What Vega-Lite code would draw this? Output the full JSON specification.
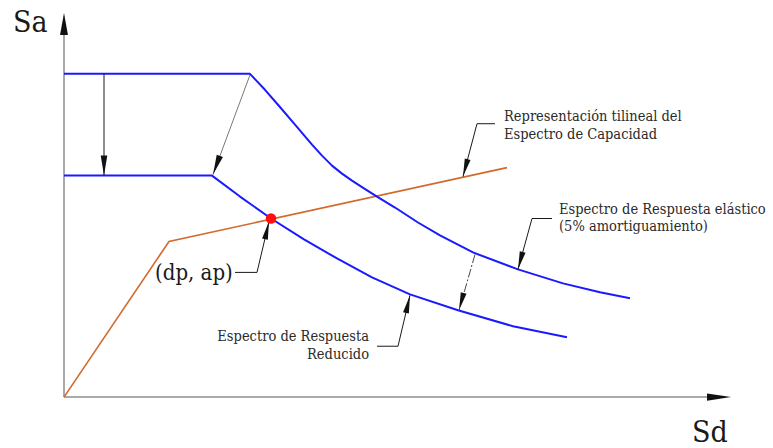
{
  "$schema": "https://vega.github.io/schema/vega-lite/v6.json",
  "width": 773,
  "height": 448,
  "padding": 0,
  "autosize": {"type": "fit", "contains": "padding"},
  "background": "white",
  "view": {"stroke": null},
  "datasets": {
    "curves": [
      {"id": "ax_y", "ord": 0, "Sd": 0, "Sa": 0},
      {"id": "ax_y", "ord": 1, "Sd": 0, "Sa": 3.68},
      {"id": "ax_x", "ord": 0, "Sd": 0, "Sa": 0},
      {"id": "ax_x", "ord": 1, "Sd": 6.51, "Sa": 0},
      {"id": "elastic", "ord": 0, "Sd": 0, "Sa": 3.24},
      {"id": "elastic", "ord": 1, "Sd": 1.86, "Sa": 3.24},
      {"id": "elastic", "ord": 2, "Sd": 2.01, "Sa": 3.08},
      {"id": "elastic", "ord": 3, "Sd": 2.14, "Sa": 2.93},
      {"id": "elastic", "ord": 4, "Sd": 2.31, "Sa": 2.73},
      {"id": "elastic", "ord": 5, "Sd": 2.48, "Sa": 2.53},
      {"id": "elastic", "ord": 6, "Sd": 2.58, "Sa": 2.42},
      {"id": "elastic", "ord": 7, "Sd": 2.68, "Sa": 2.32},
      {"id": "elastic", "ord": 8, "Sd": 2.78, "Sa": 2.24},
      {"id": "elastic", "ord": 9, "Sd": 2.88, "Sa": 2.17},
      {"id": "elastic", "ord": 10, "Sd": 2.98, "Sa": 2.105},
      {"id": "elastic", "ord": 11, "Sd": 3.13, "Sa": 2.01},
      {"id": "elastic", "ord": 12, "Sd": 3.31, "Sa": 1.90},
      {"id": "elastic", "ord": 13, "Sd": 3.54, "Sa": 1.75},
      {"id": "elastic", "ord": 14, "Sd": 3.76, "Sa": 1.62},
      {"id": "elastic", "ord": 15, "Sd": 4.09, "Sa": 1.45},
      {"id": "elastic", "ord": 16, "Sd": 4.54, "Sa": 1.28},
      {"id": "elastic", "ord": 17, "Sd": 4.99, "Sa": 1.14},
      {"id": "elastic", "ord": 18, "Sd": 5.36, "Sa": 1.05},
      {"id": "elastic", "ord": 19, "Sd": 5.66, "Sa": 0.99},
      {"id": "reduced", "ord": 0, "Sd": 0, "Sa": 2.22},
      {"id": "reduced", "ord": 1, "Sd": 1.48, "Sa": 2.22},
      {"id": "reduced", "ord": 2, "Sd": 1.76, "Sa": 2.01},
      {"id": "reduced", "ord": 3, "Sd": 2.07, "Sa": 1.79},
      {"id": "reduced", "ord": 4, "Sd": 2.40, "Sa": 1.58},
      {"id": "reduced", "ord": 5, "Sd": 2.73, "Sa": 1.39},
      {"id": "reduced", "ord": 6, "Sd": 3.08, "Sa": 1.20},
      {"id": "reduced", "ord": 7, "Sd": 3.46, "Sa": 1.03},
      {"id": "reduced", "ord": 8, "Sd": 3.94, "Sa": 0.87},
      {"id": "reduced", "ord": 9, "Sd": 4.49, "Sa": 0.71},
      {"id": "reduced", "ord": 10, "Sd": 5.03, "Sa": 0.60},
      {"id": "capacity", "ord": 0, "Sd": 0, "Sa": 0},
      {"id": "capacity", "ord": 1, "Sd": 1.05, "Sa": 1.56},
      {"id": "capacity", "ord": 2, "Sd": 4.43, "Sa": 2.30},
      {"id": "l_dp", "ord": 0, "Sd": 1.71, "Sa": 1.25},
      {"id": "l_dp", "ord": 1, "Sd": 1.93, "Sa": 1.25},
      {"id": "l_dp", "ord": 2, "Sd": 2.05, "Sa": 1.76},
      {"id": "l_red", "ord": 0, "Sd": 3.13, "Sa": 0.51},
      {"id": "l_red", "ord": 1, "Sd": 3.34, "Sa": 0.51},
      {"id": "l_red", "ord": 2, "Sd": 3.46, "Sa": 1.02},
      {"id": "l_cap", "ord": 0, "Sd": 4.31, "Sa": 2.74},
      {"id": "l_cap", "ord": 1, "Sd": 4.13, "Sa": 2.74},
      {"id": "l_cap", "ord": 2, "Sd": 3.99, "Sa": 2.21},
      {"id": "l_ela", "ord": 0, "Sd": 4.88, "Sa": 1.79},
      {"id": "l_ela", "ord": 1, "Sd": 4.68, "Sa": 1.79},
      {"id": "l_ela", "ord": 2, "Sd": 4.54, "Sa": 1.28},
      {"id": "a_vert", "ord": 0, "Sd": 0.40, "Sa": 3.24},
      {"id": "a_vert", "ord": 1, "Sd": 0.40, "Sa": 2.22},
      {"id": "a_diag", "ord": 0, "Sd": 1.86, "Sa": 3.23},
      {"id": "a_diag", "ord": 1, "Sd": 1.49, "Sa": 2.23},
      {"id": "a_dash", "ord": 0, "Sd": 4.11, "Sa": 1.43},
      {"id": "a_dash", "ord": 1, "Sd": 3.95, "Sa": 0.87}
    ],
    "heads": [
      {"arrow": "ax_y", "Sd": 0, "Sa": 3.85},
      {"arrow": "ax_x", "Sd": 6.67, "Sa": 0},
      {"arrow": "a_vert", "Sd": 0.40, "Sa": 2.22},
      {"arrow": "a_diag", "Sd": 1.49, "Sa": 2.23},
      {"arrow": "l_dp", "Sd": 2.05, "Sa": 1.76},
      {"arrow": "l_red", "Sd": 3.46, "Sa": 1.02},
      {"arrow": "l_cap", "Sd": 3.99, "Sa": 2.21},
      {"arrow": "l_ela", "Sd": 4.54, "Sa": 1.28},
      {"arrow": "a_dash", "Sd": 3.95, "Sa": 0.87}
    ],
    "perf": [
      {"label": "(dp, ap)", "Sd": 2.07, "Sa": 1.79}
    ],
    "texts": [
      {"kind": "axis", "text": "Sa", "Sd": -0.51, "Sa": 3.66},
      {"kind": "axis", "text": "Sd", "Sd": 6.28, "Sa": -0.45},
      {"kind": "point", "text": "(dp, ap)", "Sd": 0.91, "Sa": 1.17},
      {"kind": "left", "text": "Representación tilineal del", "Sd": 4.40, "Sa": 2.77},
      {"kind": "left", "text": "Espectro de Capacidad", "Sd": 4.40, "Sa": 2.59},
      {"kind": "left", "text": "Espectro de Respuesta elástico", "Sd": 4.95, "Sa": 1.84},
      {"kind": "left", "text": "(5% amortiguamiento)", "Sd": 4.95, "Sa": 1.66},
      {"kind": "right", "text": "Espectro de Respuesta", "Sd": 3.05, "Sa": 0.56},
      {"kind": "right", "text": "Reducido", "Sd": 3.05, "Sa": 0.38}
    ]
  },
  "encoding": {
    "x": {"field": "Sd", "type": "quantitative", "scale": {"domain": [-0.64, 7.09], "nice": false, "zero": false}, "axis": null},
    "y": {"field": "Sa", "type": "quantitative", "scale": {"domain": [-0.5, 3.98], "nice": false, "zero": false}, "axis": null}
  },
  "layer": [
    {
      "data": {"name": "curves"},
      "transform": [{"filter": {"field": "id", "oneOf": ["ax_y", "ax_x"]}}],
      "mark": {"type": "line", "color": "#8c8c8c", "strokeWidth": 1.5, "clip": false},
      "encoding": {"detail": {"field": "id"}, "order": {"field": "ord", "type": "quantitative"}}
    },
    {
      "data": {"name": "curves"},
      "transform": [{"filter": {"field": "id", "oneOf": ["capacity"]}}],
      "mark": {"type": "line", "color": "#d2692d", "strokeWidth": 1.6, "clip": false},
      "encoding": {"detail": {"field": "id"}, "order": {"field": "ord", "type": "quantitative"}}
    },
    {
      "data": {"name": "curves"},
      "transform": [{"filter": {"field": "id", "oneOf": ["elastic", "reduced"]}}],
      "mark": {"type": "line", "color": "#1a1aff", "strokeWidth": 2, "strokeJoin": "round", "clip": false},
      "encoding": {"detail": {"field": "id"}, "order": {"field": "ord", "type": "quantitative"}}
    },
    {
      "data": {"name": "curves"},
      "transform": [{"filter": {"field": "id", "oneOf": ["l_dp", "l_red", "l_cap", "l_ela", "a_vert"]}}],
      "mark": {"type": "line", "color": "#1a1a1a", "strokeWidth": 1, "clip": false},
      "encoding": {"detail": {"field": "id"}, "order": {"field": "ord", "type": "quantitative"}}
    },
    {
      "data": {"name": "curves"},
      "transform": [{"filter": {"field": "id", "oneOf": ["a_diag"]}}],
      "mark": {"type": "line", "color": "#555555", "strokeWidth": 0.8, "clip": false},
      "encoding": {"detail": {"field": "id"}, "order": {"field": "ord", "type": "quantitative"}}
    },
    {
      "data": {"name": "curves"},
      "transform": [{"filter": {"field": "id", "oneOf": ["a_dash"]}}],
      "mark": {"type": "line", "color": "#333333", "strokeWidth": 0.9, "strokeDash": [9, 2, 2, 2], "clip": false},
      "encoding": {"detail": {"field": "id"}, "order": {"field": "ord", "type": "quantitative"}}
    },
    {
      "data": {"name": "heads"},
      "transform": [{"filter": {"field": "arrow", "oneOf": ["ax_y"]}}],
      "mark": {"type": "point", "shape": "M0,0L-0.36,2L0.36,2Z", "angle": 0, "size": 484, "filled": true, "color": "#111111", "opacity": 1, "strokeWidth": 0}
    },
    {
      "data": {"name": "heads"},
      "transform": [{"filter": {"field": "arrow", "oneOf": ["ax_x"]}}],
      "mark": {"type": "point", "shape": "M0,0L-0.3,2L0.3,2Z", "angle": 90, "size": 576, "filled": true, "color": "#111111", "opacity": 1, "strokeWidth": 0}
    },
    {
      "data": {"name": "heads"},
      "transform": [{"filter": {"field": "arrow", "oneOf": ["a_vert"]}}],
      "mark": {"type": "point", "shape": "M0,0L-0.33,2L0.33,2Z", "angle": 180, "size": 400, "filled": true, "color": "#111111", "opacity": 1, "strokeWidth": 0}
    },
    {
      "data": {"name": "heads"},
      "transform": [{"filter": {"field": "arrow", "oneOf": ["a_diag"]}}],
      "mark": {"type": "point", "shape": "M0,0L-0.33,2L0.33,2Z", "angle": 200, "size": 400, "filled": true, "color": "#111111", "opacity": 1, "strokeWidth": 0}
    },
    {
      "data": {"name": "heads"},
      "transform": [{"filter": {"field": "arrow", "oneOf": ["l_dp", "l_red"]}}],
      "mark": {"type": "point", "shape": "M0,0L-0.33,2L0.33,2Z", "angle": 13, "size": 324, "filled": true, "color": "#111111", "opacity": 1, "strokeWidth": 0}
    },
    {
      "data": {"name": "heads"},
      "transform": [{"filter": {"field": "arrow", "oneOf": ["l_cap", "l_ela", "a_dash"]}}],
      "mark": {"type": "point", "shape": "M0,0L-0.33,2L0.33,2Z", "angle": 195, "size": 324, "filled": true, "color": "#111111", "opacity": 1, "strokeWidth": 0}
    },
    {
      "data": {"name": "perf"},
      "mark": {"type": "point", "shape": "circle", "size": 110, "filled": true, "color": "#ff1010", "opacity": 1}
    },
    {
      "data": {"name": "texts"},
      "transform": [{"filter": {"field": "kind", "equal": "axis"}}],
      "mark": {"type": "text", "align": "left", "baseline": "alphabetic", "font": "DejaVu Serif Condensed, DejaVu Serif", "fontSize": 30, "color": "#1a1a1a"},
      "encoding": {"text": {"field": "text"}}
    },
    {
      "data": {"name": "texts"},
      "transform": [{"filter": {"field": "kind", "equal": "point"}}],
      "mark": {"type": "text", "align": "left", "baseline": "alphabetic", "font": "DejaVu Serif Condensed, DejaVu Serif", "fontSize": 22, "color": "#1a1a1a"},
      "encoding": {"text": {"field": "text"}}
    },
    {
      "data": {"name": "texts"},
      "transform": [{"filter": {"field": "kind", "equal": "left"}}],
      "mark": {"type": "text", "align": "left", "baseline": "alphabetic", "font": "DejaVu Serif Condensed, DejaVu Serif", "fontSize": 14.5, "color": "#2a2a2a"},
      "encoding": {"text": {"field": "text"}}
    },
    {
      "data": {"name": "texts"},
      "transform": [{"filter": {"field": "kind", "equal": "right"}}],
      "mark": {"type": "text", "align": "right", "baseline": "alphabetic", "font": "DejaVu Serif Condensed, DejaVu Serif", "fontSize": 14.5, "color": "#2a2a2a"},
      "encoding": {"text": {"field": "text"}}
    }
  ]
}
